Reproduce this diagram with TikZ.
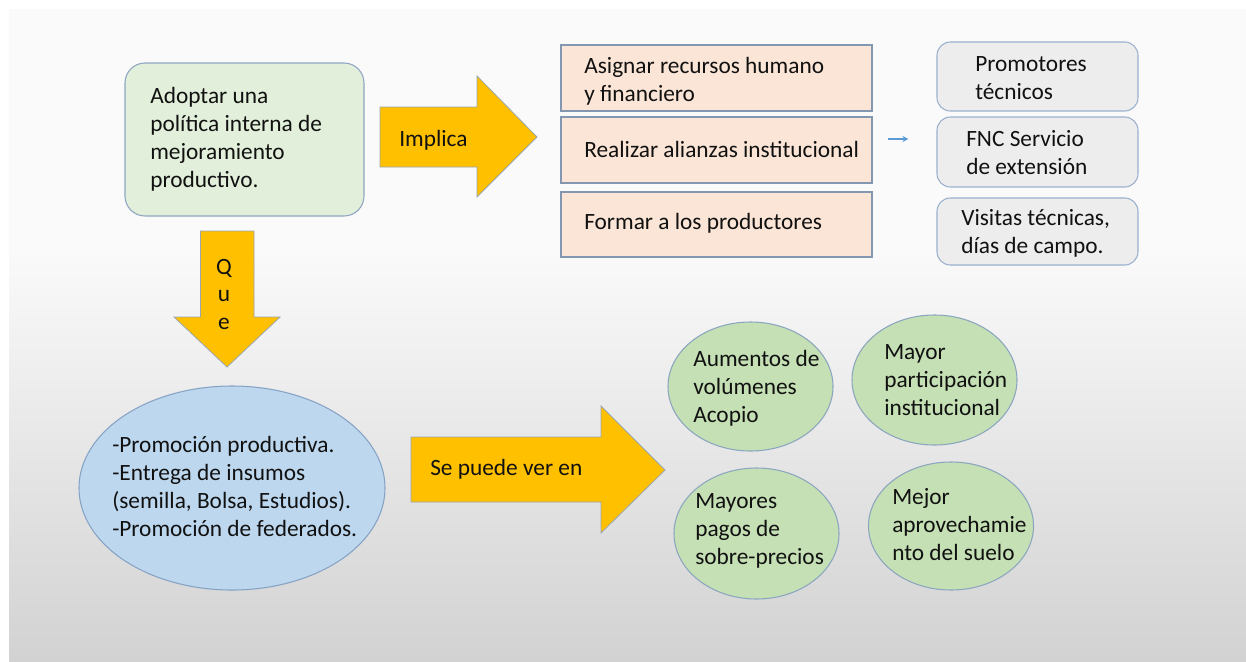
\documentclass[tikz,border=0pt]{standalone}
\usepackage{fontspec}
\setmainfont{Carlito}
\usetikzlibrary{shapes.geometric,arrows.meta,calc}
\definecolor{txtc}{HTML}{111111}
\definecolor{bgtop}{HTML}{FAFAFA}
\definecolor{bgbot}{HTML}{D2D2D2}
\definecolor{gfill}{HTML}{E2EFDA}
\definecolor{gbord}{HTML}{8FA6C2}
\definecolor{afill}{HTML}{FFC000}
\definecolor{abord}{HTML}{9AA6B2}
\definecolor{pfill}{HTML}{FBE5D6}
\definecolor{pbord}{HTML}{8497B0}
\definecolor{grfill}{HTML}{EDEDED}
\definecolor{grbord}{HTML}{9AB0CE}
\definecolor{efill}{HTML}{BDD7EE}
\definecolor{ebord}{HTML}{86A3C6}
\definecolor{cfill}{HTML}{C5E0B4}
\definecolor{cbord}{HTML}{8BA6BE}
\definecolor{smallarrow}{HTML}{5B9BD5}
\tikzset{
  txt/.style={anchor=west, align=left, inner sep=0pt, text=txtc, font=\fontsize{17.5}{21}\selectfont},
  greenbox/.style={draw=gbord, line width=0.8pt, fill=gfill, rounded corners=15pt, minimum width=179.25pt, minimum height=114.75pt, inner sep=0pt},
  pinkbox/.style={draw=pbord, line width=0.8pt, fill=pfill, minimum width=233.25pt, inner sep=0pt},
  graybox/.style={draw=grbord, line width=0.8pt, fill=grfill, rounded corners=10pt, minimum width=150.75pt, inner sep=0pt},
  blueell/.style={ellipse, draw=ebord, line width=0.8pt, fill=efill, minimum width=229.5pt, minimum height=153pt, inner sep=0pt},
  greenell/.style={ellipse, draw=cbord, line width=0.8pt, fill=cfill, minimum width=123.75pt, inner sep=0pt},
  blockarrow/.style={draw=abord, line width=0.6pt, fill=afill, line join=miter},
  thinarrow/.style={draw=smallarrow, line width=0.8pt, -{Stealth[length=4.5pt,width=4.5pt]}}
}
\begin{document}
\begin{tikzpicture}[x=0.75pt,y=-0.75pt]
\useasboundingbox (0,0) rectangle (1246,661);
% background slide
\fill[white] (0,0) rectangle (1246,661);
\fill[bgtop] (9,9) rectangle (1246,250);
\shade[top color=bgtop, bottom color=bgbot] (9,250) rectangle (1246,661);

% top-left box
\node[greenbox] (adopt) at (244.5,139.5) {};
\node[txt] (adoptt) at (150,139.5) {Adoptar una\\política interna de\\mejoramiento\\productivo.};

% Implica arrow
\path[blockarrow] (380,107) -- (477,107) -- (477,76) -- (537,137) -- (477,197) -- (477,167) -- (380,167) -- cycle;
\node[txt] (implica) at (399,140) {Implica};

% pink boxes
\node[pinkbox, minimum height=49.5pt] (p1) at (716.5,78) {};
\node[pinkbox, minimum height=49.5pt] (p2) at (716.5,150) {};
\node[pinkbox, minimum height=48.75pt] (p3) at (716.5,224.5) {};
\node[txt] (p1t) at (584,81.5) {Asignar recursos humano\\y financiero};
\node[txt] (p2t) at (584,149) {Realizar alianzas institucional};
\node[txt] (p3t) at (584,223) {Formar a los productores};

% gray boxes
\node[graybox, minimum height=51.75pt] (g1) at (1037.5,76.5) {};
\node[graybox, minimum height=52.5pt] (g2) at (1037.5,152) {};
\node[graybox, minimum height=50.25pt] (g3) at (1037.5,231.5) {};
\node[txt] (g1t) at (975,78) {Promotores\\técnicos};
\node[txt] (g2t) at (966,152.5) {FNC Servicio\\de extensión};
\node[txt] (g3t) at (961,233) {Visitas técnicas,\\días de campo.};

% small connector
\draw[thinarrow] ($(p2.east)+(15,-11)$) -- ($(g2.west)+(-28,-13)$);

% Que arrow
\path[blockarrow] (200.5,231) -- (254,231) -- (254,317) -- (280,317) -- (227,367) -- (174,317) -- (200.5,317) -- cycle;
\node[txt, anchor=center, align=center, font=\fontsize{17.5}{20.6}\selectfont] (que) at (224,294.5) {Q\\u\\e};

% blue ellipse
\node[blueell] (prom) at (232,488) {};
\node[txt] (promt) at (112,486) {-Promoción productiva.\\-Entrega de insumos\\(semilla, Bolsa, Estudios).\\-Promoción de federados.};

% Se puede ver en arrow
\path[blockarrow] (411,437) -- (601,437) -- (601,406) -- (665,470) -- (601,533) -- (601,502) -- (411,502) -- cycle;
\node[txt] (sepuede) at (430,469) {Se puede ver en};

% green circles
\node[greenell, minimum height=96.75pt] (c1) at (750.5,386.5) {};
\node[greenell, minimum height=97.5pt] (c2) at (934.5,380) {};
\node[greenell, minimum height=98.25pt] (c3) at (756.5,533.5) {};
\node[greenell, minimum height=96pt] (c4) at (951,526) {};
\node[txt] (c1t) at (693,388.5) {Aumentos de\\volúmenes\\Acopio};
\node[txt] (c2t) at (884,380) {Mayor\\participación\\institucional};
\node[txt] (c3t) at (695,531) {Mayores\\pagos de\\sobre-precios};
\node[txt] (c4t) at (892,525) {Mejor\\aprovechamie\\nto del suelo};
\end{tikzpicture}
\end{document}
